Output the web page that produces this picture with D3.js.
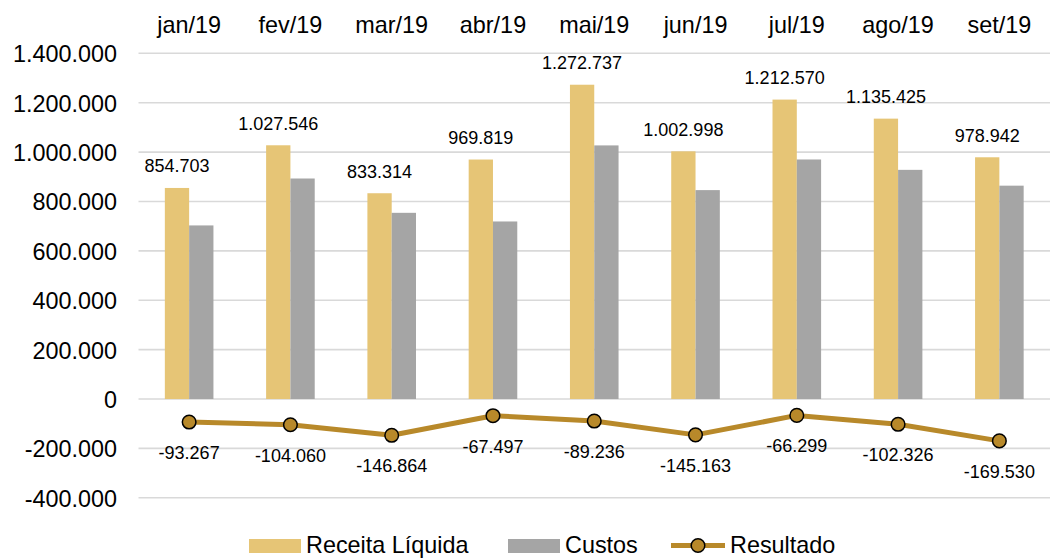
<!DOCTYPE html>
<html><head><meta charset="utf-8">
<script src="https://cdn.jsdelivr.net/npm/d3@7"></script>
<style>
html,body{margin:0;padding:0;background:#fff;}
text{font-family:"Liberation Sans",Arial,sans-serif;fill:#000;}
</style></head>
<body><svg id="c" width="1051" height="558"></svg>
<script>
const categories = ["jan/19","fev/19","mar/19","abr/19","mai/19","jun/19","jul/19","ago/19","set/19"];
const receita = [854703,1027546,833314,969819,1272737,1002998,1212570,1135425,978942];
const custos = [703000,893000,754000,719000,1027000,846000,970000,928000,864000];
const resultado = [-93267,-104060,-146864,-67497,-89236,-145163,-66299,-102326,-169530];
const yTicks = [-400000,-200000,0,200000,400000,600000,800000,1000000,1200000,1400000];
const seriesNames = ["Receita Líquida","Custos","Resultado"];

const colReceita = "#E6C576", colCustos = "#A5A5A5", colRes = "#B8892A";
const loc = d3.formatLocale({decimal:",", thousands:".", grouping:[3], currency:["R$",""], minus:"-"});
const fmt = loc.format(",d");

const svg = d3.select("#c");
const x = d3.scaleBand().domain(categories).range([138.5,1050]).padding(0);
const y = d3.scaleLinear().domain([-400000,1400000]).range([497.8,53.3]);
const bw = 24.3;

// gridlines
svg.append("g").selectAll("line").data(yTicks).join("line")
  .attr("x1",138.5).attr("x2",1050)
  .attr("y1",d=>y(d)).attr("y2",d=>y(d))
  .attr("stroke","#D9D9D9").attr("stroke-width",1.6);

// y axis labels
const yAxis = d3.axisLeft(y).tickValues(yTicks).tickFormat(fmt).tickSize(0).tickPadding(0);
const ga = svg.append("g").attr("transform","translate(117,0)").call(yAxis);
ga.select(".domain").remove();
ga.selectAll("text").style("font-size","23.4px").attr("font-family","Liberation Sans, Arial, sans-serif").attr("fill","#000").attr("dy","0.36em");

// top category labels
const xAxis = d3.axisTop(x).tickSize(0).tickPadding(0);
const gx = svg.append("g").attr("transform","translate(0,33)").call(xAxis);
gx.select(".domain").remove();
gx.selectAll("text").style("font-size","23.4px").attr("font-family","Liberation Sans, Arial, sans-serif").attr("fill","#000").attr("dy","0");

// bars
const cx = c => x(c) + x.bandwidth()/2;
svg.append("g").selectAll("rect").data(categories).join("rect")
  .attr("x",(c)=>cx(c)-bw).attr("width",bw)
  .attr("y",(c,i)=>y(receita[i])).attr("height",(c,i)=>y(0)-y(receita[i]))
  .attr("fill",colReceita);
svg.append("g").selectAll("rect").data(categories).join("rect")
  .attr("x",(c)=>cx(c)).attr("width",bw)
  .attr("y",(c,i)=>y(custos[i])).attr("height",(c,i)=>y(0)-y(custos[i]))
  .attr("fill",colCustos);

// receita labels
svg.append("g").selectAll("text").data(categories).join("text")
  .attr("x",c=>cx(c)-bw/2).attr("y",(c,i)=>y(receita[i])-15.5)
  .attr("text-anchor","middle").style("font-size","18px")
  .text((c,i)=>fmt(receita[i]));

// resultado line
const line = d3.line().x((d,i)=>cx(categories[i])).y(d=>y(d));
svg.append("path").datum(resultado).attr("d",line)
  .attr("fill","none").attr("stroke",colRes).attr("stroke-width",5).attr("stroke-linejoin","round");
svg.append("g").selectAll("circle").data(resultado).join("circle")
  .attr("cx",(d,i)=>cx(categories[i])).attr("cy",d=>y(d)).attr("r",6.8)
  .attr("fill",colRes).attr("stroke","#000").attr("stroke-width",1.5);
svg.append("g").selectAll("text").data(resultado).join("text")
  .attr("x",(d,i)=>cx(categories[i])).attr("y",d=>y(d)+37)
  .attr("text-anchor","middle").style("font-size","18px")
  .text(d=>fmt(d));

// legend
const lg = svg.append("g").attr("transform","translate(0,-3)");
lg.append("rect").attr("x",249).attr("y",542).attr("width",52).attr("height",14).attr("fill",colReceita);
lg.append("text").attr("x",306).attr("y",556).style("font-size","23.4px").text(seriesNames[0]);
lg.append("rect").attr("x",508).attr("y",542).attr("width",52).attr("height",14).attr("fill",colCustos);
lg.append("text").attr("x",565).attr("y",556).style("font-size","23.4px").text(seriesNames[1]);
lg.append("line").attr("x1",671).attr("x2",725).attr("y1",548.5).attr("y2",548.5).attr("stroke",colRes).attr("stroke-width",5);
lg.append("circle").attr("cx",698).attr("cy",548.5).attr("r",6.8).attr("fill",colRes).attr("stroke","#000").attr("stroke-width",1.5);
lg.append("text").attr("x",730).attr("y",556).style("font-size","23.4px").text(seriesNames[2]);
</script></body></html>
